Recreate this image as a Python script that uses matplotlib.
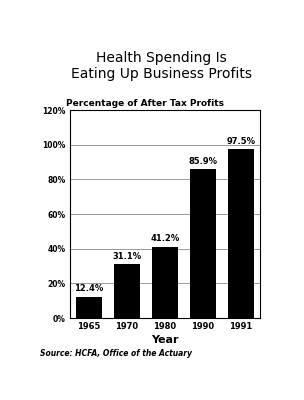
import numpy as np
import matplotlib.pyplot as plt

years = ['1965', '1970', '1980', '1990', '1991']
values = [12.4, 31.1, 41.2, 85.9, 97.5]
yticks = [0, 20, 40, 60, 80, 100, 120]

fig = plt.figure(figsize=(3.04, 4.0), dpi=100)
ax = fig.add_axes([0.23, 0.205, 0.625, 0.52])

x = np.arange(len(years))
ax.bar(x, values, width=0.68, color='black', zorder=3)
for xi, v in zip(x, values):
    ax.text(xi, v + 2, f'{v}%', ha='center', va='bottom', fontsize=6, fontweight='bold')

ax.set_xlim(-0.5, len(years) - 0.5)
ax.set_ylim(0, 120)
ax.set_yticks(yticks)
ax.set_yticklabels([f'{t}%' for t in yticks], fontsize=5.5, fontweight='bold')
ax.set_xticks(x)
ax.set_xticklabels(years, fontsize=6, fontweight='bold')
ax.tick_params(length=0, pad=3)
ax.yaxis.grid(True, color='#888888', linewidth=0.6, zorder=0)
for s in ax.spines.values():
    s.set_linewidth(0.8)

ax.set_xlabel('Year', fontsize=8, fontweight='bold', labelpad=3)
ax.text(-0.02, 1.01, 'Percentage of After Tax Profits', transform=ax.transAxes,
        fontsize=6.5, fontweight='bold', va='bottom', ha='left')

fig.text(0.53, 0.835, 'Health Spending Is\nEating Up Business Profits', ha='center', va='center',
         fontsize=10, linespacing=1.25)
fig.text(0.13, 0.117, 'Source: HCFA, Office of the Actuary', fontsize=5.5,
         fontweight='bold', style='italic', va='center')

fig.savefig('out.png', dpi=100)
